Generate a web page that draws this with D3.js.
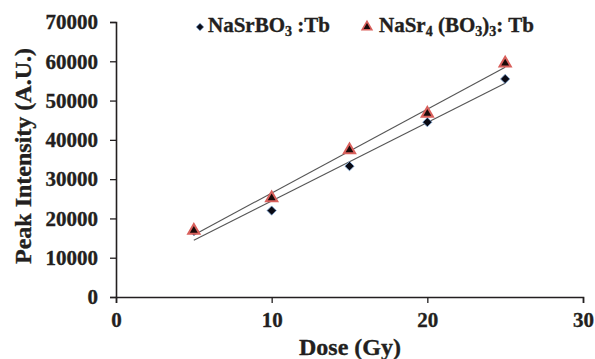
<!DOCTYPE html>
<html>
<head>
<meta charset="utf-8">
<script src="https://cdn.jsdelivr.net/npm/d3@7"></script>
<style>
  body { margin: 0; background: #fff; }
  text { font-family: "Liberation Serif", "Times New Roman", serif; font-weight: bold; fill: #231f20; stroke: #231f20; stroke-width: 0.35px; }
</style>
</head>
<body>
<div id="chart"></div>
<script>
// data
const doses = [5, 10, 15, 20, 25];
const nasrbo3 = [16800, 22000, 33300, 44500, 55500];
const nasr4bo3 = [16900, 25200, 37400, 46700, 59500];
const xTicks = [0, 10, 20, 30];
const yTicks = [0, 10000, 20000, 30000, 40000, 50000, 60000, 70000];

const width = 595;
const height = 359;

const svg = d3.select('#chart')
    .append('svg')
    .attr('width', width)
    .attr('height', height);

const x = d3.scaleLinear().domain([0, 30]).range([116, 583]);
const y = d3.scaleLinear().domain([0, 70000]).range([297, 22]);

// least squares line, like the Excel trendline
function fit(xs, ys) {
  const mx = d3.mean(xs), my = d3.mean(ys);
  const slope = d3.sum(xs, (v, i) => (v - mx) * (ys[i] - my)) / d3.sum(xs, v => (v - mx) * (v - mx));
  return v => my + slope * (v - mx);
}

// axes
const xAxis = svg.append('g')
    .attr('transform', `translate(0,${y(0)})`)
    .call(d3.axisBottom(x).tickValues(xTicks).tickSize(6).tickPadding(9).tickFormat(d3.format('d')));
const yAxis = svg.append('g')
    .attr('transform', `translate(${x(0)},0)`)
    .call(d3.axisLeft(y).tickValues(yTicks).tickSize(6).tickPadding(12).tickFormat(d3.format('d')));

[xAxis, yAxis].forEach(g => {
  g.select('.domain').attr('stroke', '#231f20').attr('stroke-width', 1.6);
  g.selectAll('.tick line').attr('stroke', '#231f20').attr('stroke-width', 1.3);
  g.selectAll('.tick text')
      .attr('fill', '#231f20')
      .style('font-family', '"Liberation Serif", serif')
      .style('font-weight', 'bold')
      .style('font-size', '21px');
});

// axis titles
svg.append('text')
    .attr('x', 350)
    .attr('y', 355)
    .attr('text-anchor', 'middle')
    .style('font-size', '24px')
    .text('Dose (Gy)');

svg.append('text')
    .attr('transform', 'translate(31,156) rotate(-90)')
    .attr('text-anchor', 'middle')
    .style('font-size', '24px')
    .text('Peak Intensity (A.U.)');

// trendlines
const series = [
  {name: 'a', values: nasrbo3},
  {name: 'b', values: nasr4bo3}
];
series.forEach(s => {
  const f = fit(doses, s.values);
  svg.append('line')
      .attr('x1', x(doses[0]))
      .attr('y1', y(f(doses[0])))
      .attr('x2', x(doses[doses.length - 1]))
      .attr('y2', y(f(doses[doses.length - 1])))
      .attr('stroke', '#555')
      .attr('stroke-width', 1.1);
});

const diamond = d3.symbol().type(d3.symbolDiamond2).size(55);
const triangle = d3.symbol().type(d3.symbolTriangle).size(55);

// NaSrBO3 points
svg.selectAll('.dia')
    .data(doses.map((d, i) => [d, nasrbo3[i]]))
    .join('path')
    .attr('class', 'dia')
    .attr('transform', d => `translate(${x(d[0])},${y(d[1])})`)
    .attr('d', diamond)
    .attr('fill', '#0a0a14')
    .attr('stroke', '#7fa8d8')
    .attr('stroke-width', 0.8);

// NaSr4(BO3)3 points
svg.selectAll('.tri')
    .data(doses.map((d, i) => [d, nasr4bo3[i]]))
    .join('path')
    .attr('class', 'tri')
    .attr('transform', d => `translate(${x(d[0])},${y(d[1])})`)
    .attr('d', triangle)
    .attr('fill', '#1a0a0a')
    .attr('stroke', '#d9605c')
    .attr('stroke-width', 2);

// legend
svg.append('path')
    .attr('transform', 'translate(200,27)')
    .attr('d', d3.symbol().type(d3.symbolDiamond2).size(36))
    .attr('fill', '#0a0a14')
    .attr('stroke', '#7fa8d8')
    .attr('stroke-width', 0.8);

const l1 = svg.append('text').attr('x', 208).attr('y', 32).style('font-size', '21px');
l1.append('tspan').text('NaSrBO');
l1.append('tspan').attr('dy', 4).style('font-size', '14px').text('3');
l1.append('tspan').attr('dy', -4).text(' :Tb');

svg.append('path')
    .attr('transform', 'translate(367,27)')
    .attr('d', d3.symbol().type(d3.symbolTriangle).size(40))
    .attr('fill', '#1a0a0a')
    .attr('stroke', '#d9605c')
    .attr('stroke-width', 1.6);

const l2 = svg.append('text').attr('x', 379).attr('y', 32).style('font-size', '21px');
l2.append('tspan').text('NaSr');
l2.append('tspan').attr('dy', 4).style('font-size', '14px').text('4');
l2.append('tspan').attr('dy', -4).text(' (BO');
l2.append('tspan').attr('dy', 4).style('font-size', '14px').text('3');
l2.append('tspan').attr('dy', -4).text(')');
l2.append('tspan').attr('dy', 4).style('font-size', '14px').text('3');
l2.append('tspan').attr('dy', -4).text(': Tb');
</script>
</body>
</html>
